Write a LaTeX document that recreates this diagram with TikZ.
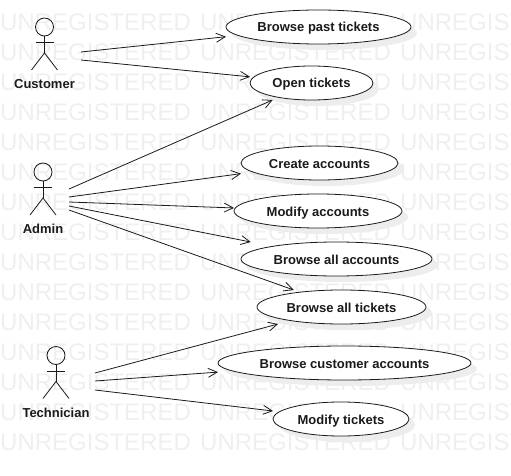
\documentclass[tikz,border=0pt]{standalone}
\usepackage{fontspec}
\setmainfont{Liberation Sans}
\usetikzlibrary{arrows.meta,shadows}
\newdimen\ucCx \newdimen\ucCy \newdimen\ucRx \newdimen\ucRy
\makeatletter
\pgfdeclareshape{usecase}{
  \inheritsavedanchors[from=rectangle]
  \inheritanchorborder[from=rectangle]
  \inheritanchor[from=rectangle]{center}
  \inheritanchor[from=rectangle]{north}
  \inheritanchor[from=rectangle]{south}
  \inheritanchor[from=rectangle]{east}
  \inheritanchor[from=rectangle]{west}
  \backgroundpath{
    \southwest \pgf@xa=\pgf@x \pgf@ya=\pgf@y
    \northeast \pgf@xb=\pgf@x \pgf@yb=\pgf@y
    \ucCx=.5\pgf@xa \advance\ucCx by .5\pgf@xb
    \ucCy=.5\pgf@ya \advance\ucCy by .5\pgf@yb
    \ucRx=\pgf@xb \advance\ucRx by -\ucCx
    \ucRy=\pgf@yb \advance\ucRy by -\ucCy
    \pgfpathellipse{\pgfqpoint{\ucCx}{\ucCy}}{\pgfqpoint{\ucRx}{0pt}}{\pgfqpoint{0pt}{\ucRy}}
  }
}
\makeatother
\definecolor{wm}{HTML}{EFEFEF}
\definecolor{ink}{HTML}{1A1A1A}
\tikzset{
  x=1pt,y=-1pt,
  watermark/.style={anchor=west,inner sep=0pt,text=wm,font=\fontsize{24}{24}\selectfont},
  ucase/.style={shape=usecase,draw=ink,fill=white,line width=.8pt,inner sep=0pt,outer sep=0pt,
    minimum height=34pt,text=ink,text height=10pt,text depth=0pt,font=\bfseries\fontsize{13}{15}\selectfont,
    copy shadow={shadow xshift=6pt,shadow yshift=-6pt,draw=none,fill=black!7}},
  actorlabel/.style={inner sep=0pt,text=ink,text height=10pt,text depth=0pt,font=\bfseries\fontsize{13}{15}\selectfont},
  assoc/.style={draw=ink,line width=.8pt,-{Straight Barb[length=9pt,width=9pt,line width=.8pt]}},
  stick/.style={draw=ink,line width=.8pt},
  pics/stickman/.style={code={
    \draw[stick] (0,-15) circle[radius=9];
    \draw[stick] (0,-6) -- (0,11);
    \draw[stick] (-9,0.5) -- (9,0.5);
    \draw[stick] (-13,28) -- (0,11) -- (13,28);
  }}
}
\begin{document}
\begin{tikzpicture}
\useasboundingbox (0,0) rectangle (511,476);
\begin{scope}
\clip (0,0) rectangle (511,476);
\foreach \r in {22,52,...,442}
  \foreach \c in {0,200,400}
    \node[watermark] (wm\c-\r) at (\c,\r) {UNREGISTERED};
\end{scope}

\node[ucase,minimum width=185pt] (past) at (318.5,27) {Browse past tickets};
\node[ucase,minimum width=123pt] (open) at (311.5,83) {Open tickets};
\node[ucase,minimum width=157pt] (create) at (319.5,163) {Create accounts};
\node[ucase,minimum width=168pt] (modacc) at (318,211) {Modify accounts};
\node[ucase,minimum width=191pt] (allacc) at (336.5,259) {Browse all accounts};
\node[ucase,minimum width=169pt] (alltic) at (341.5,307) {Browse all tickets};
\node[ucase,minimum width=253pt] (custacc) at (344.5,363) {Browse customer accounts};
\node[ucase,minimum width=136pt] (modtic) at (341,419) {Modify tickets};

\pic at (44.5,42) {stickman};
\pic at (43,187) {stickman};
\pic at (56,370.5) {stickman};
\node[actorlabel] (customer) at (44.5,84) {Customer};
\node[actorlabel] (admin) at (43,228) {Admin};
\node[actorlabel] (technician) at (56,412) {Technician};

\coordinate (c1) at (81,52);
\coordinate (c2) at (81,60);
\coordinate (a1) at (69,189);
\coordinate (a2) at (69,197);
\coordinate (a3) at (69,202);
\coordinate (a4) at (69,206);
\coordinate (a5) at (69,210);
\coordinate (t1) at (95,373);
\coordinate (t2) at (95,381);
\coordinate (t3) at (95,390);

\draw[assoc] (c1) -- (past);
\draw[assoc] (c2) -- (open);
\draw[assoc] (a1) -- (open);
\draw[assoc] (a2) -- (create);
\draw[assoc] (a3) -- (modacc);
\draw[assoc] (a4) -- (allacc);
\draw[assoc] (a5) -- (alltic);
\draw[assoc] (t1) -- (alltic);
\draw[assoc] (t2) -- (custacc);
\draw[assoc] (t3) -- (modtic);
\end{tikzpicture}
\end{document}
